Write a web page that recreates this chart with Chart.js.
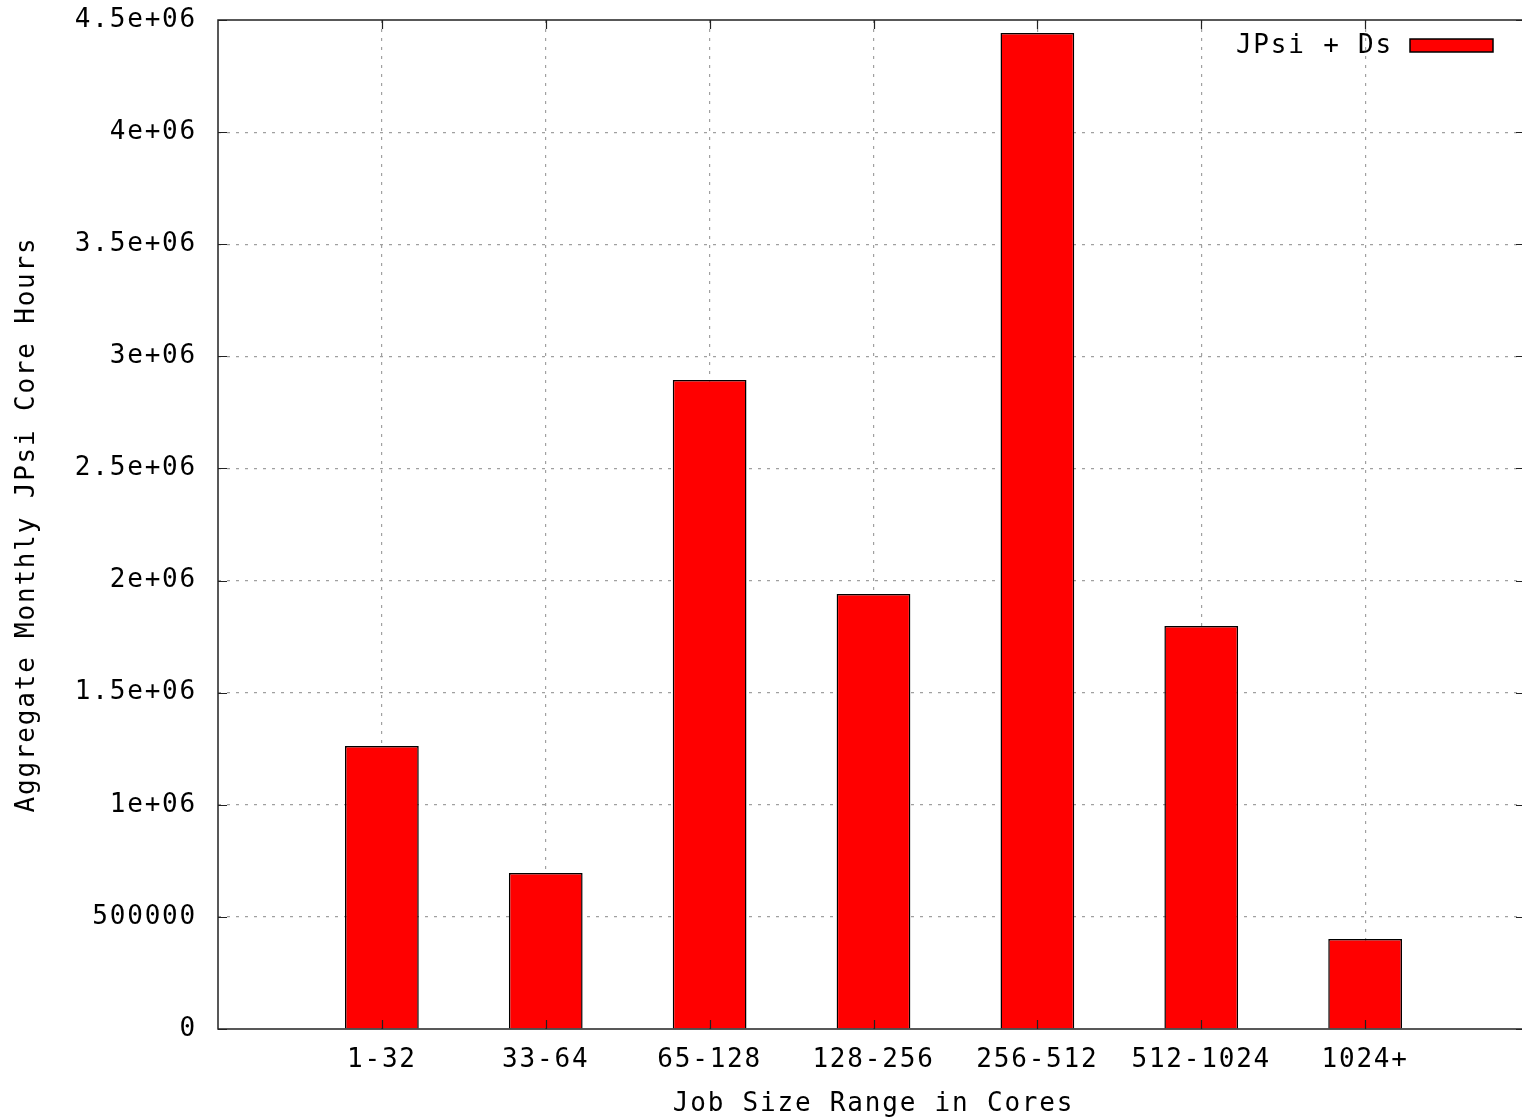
<!DOCTYPE html>
<html>
<head>
<meta charset="utf-8">
<script src="https://cdn.jsdelivr.net/npm/chart.js@4.4.1/dist/chart.umd.min.js"></script>
<style>
  body { margin: 0; background: #fff; overflow: hidden; }
  #wrap { width: 1522px; height: 1120px; overflow: hidden; }
</style>
</head>
<body>
<div id="wrap"><canvas id="myChart" width="1529" height="1120"></canvas></div>
<script>
// job size ranges (blank slots at both ends keep the gnuplot spacing)
const categories = ['', '1-32', '33-64', '65-128', '128-256', '256-512', '512-1024', '1024+', ''];
const coreHours = [null, 1262000, 696000, 2895000, 1940000, 4442000, 1797000, 401000, null];
const seriesLabel = 'JPsi + Ds';
const yTickLabels = ['0', '500000', '1e+06', '1.5e+06', '2e+06', '2.5e+06', '3e+06', '3.5e+06', '4e+06', '4.5e+06'];
const yMax = 4500000;
const yStep = 500000;

const FONT = { family: '"DejaVu Sans Mono", "Liberation Mono", monospace', size: 26 };
const LSP = '1.8px';

function spacing(chart) {
    chart.ctx.letterSpacing = LSP;
}

const gnuplotFrame = {
    id: 'gnuplotFrame',
    beforeUpdate: spacing,
    beforeLayout: spacing,
    beforeDraw: spacing,
    afterDatasetsDraw: function(chart) {
        const ctx = chart.ctx, a = chart.chartArea;
        const xs = chart.scales.x, ys = chart.scales.y;
        ctx.save();
        ctx.strokeStyle = '#222';
        ctx.lineWidth = 1.5;
        ctx.beginPath();
        ctx.rect(a.left, a.top, a.right - a.left, a.bottom - a.top);
        ctx.stroke();
        // inward tick marks
        ctx.lineWidth = 1.2;
        ctx.beginPath();
        ys.ticks.forEach(function(t) {
            const y = Math.round(ys.getPixelForValue(t.value)) + 0.5;
            ctx.moveTo(a.left, y); ctx.lineTo(a.left + 9, y);
            ctx.moveTo(a.right, y); ctx.lineTo(a.right - 13, y);
        });
        for (let i = 1; i < categories.length - 1; i++) {
            const x = Math.round(xs.getPixelForValue(i)) + 0.5;
            ctx.moveTo(x, a.bottom); ctx.lineTo(x, a.bottom - 9);
            ctx.moveTo(x, a.top); ctx.lineTo(x, a.top + 9);
        }
        ctx.stroke();
        // legend: text then sample box, top right
        const ds = chart.data.datasets[0];
        const bx = a.right - 36 - 83, by = a.top + 19;
        ctx.fillStyle = ds.backgroundColor;
        ctx.fillRect(bx, by, 83, 13);
        ctx.strokeStyle = '#000';
        ctx.lineWidth = 1.5;
        ctx.strokeRect(bx, by, 83, 13);
        ctx.letterSpacing = LSP;
        ctx.font = FONT.size + 'px ' + FONT.family;
        ctx.fillStyle = '#000';
        ctx.textAlign = 'right';
        ctx.textBaseline = 'middle';
        ctx.fillText(ds.label, bx - 17, by + 7);
        ctx.restore();
    }
};

window.addEventListener('DOMContentLoaded', function() {
    const ctx = document.getElementById('myChart');
    const myChart = new Chart(ctx, {
        type: 'bar',
        data: {
            labels: categories,
            datasets: [{
                label: seriesLabel,
                data: coreHours,
                backgroundColor: '#ff0000',
                borderColor: '#000000',
                borderWidth: 1.5,
                categoryPercentage: 1,
                barPercentage: 0.45
            }]
        },
        options: {
            responsive: false,
            animation: false,
            layout: { padding: { top: 20, right: 0, left: 0, bottom: 0 } },
            plugins: {
                legend: { display: false },
                tooltip: { enabled: false }
            },
            scales: {
                x: {
                    offset: false,
                    grid: {
                        offset: false,
                        drawTicks: false,
                        color: function(c) {
                            return (c.index === 0 || c.index === categories.length - 1) ? 'rgba(0,0,0,0)' : '#a0a0a0';
                        },
                        lineWidth: 1.2
                    },
                    border: { display: false, dash: [3, 6] },
                    ticks: {
                        color: '#000',
                        font: FONT,
                        padding: 16,
                        maxRotation: 0,
                        autoSkip: false
                    },
                    title: {
                        display: true,
                        text: 'Job Size Range in Cores',
                        color: '#000',
                        font: FONT,
                        padding: { top: 0, bottom: 0 }
                    },
                    afterFit: function(scale) {
                        scale.height = 91;
                        scale.paddingLeft = 0;
                        scale.paddingRight = 0;
                    }
                },
                y: {
                    min: 0,
                    max: yMax,
                    border: { display: false, dash: [3, 6] },
                    grid: {
                        drawTicks: false,
                        color: function(c) {
                            return (c.tick.value === 0 || c.tick.value === yMax) ? 'rgba(0,0,0,0)' : '#a0a0a0';
                        },
                        lineWidth: 1.2
                    },
                    ticks: {
                        stepSize: yStep,
                        color: '#000',
                        font: FONT,
                        padding: 21,
                        callback: function(value, index) { return yTickLabels[index]; }
                    },
                    title: {
                        display: true,
                        text: 'Aggregate Monthly JPsi Core Hours',
                        color: '#000',
                        font: FONT,
                        padding: { top: 12, bottom: 0 }
                    },
                    afterFit: function(scale) {
                        scale.width = 218;
                        scale.paddingTop = 0;
                        scale.paddingBottom = 0;
                    }
                }
            }
        },
        plugins: [gnuplotFrame]
    });
});
</script>
</body>
</html>
